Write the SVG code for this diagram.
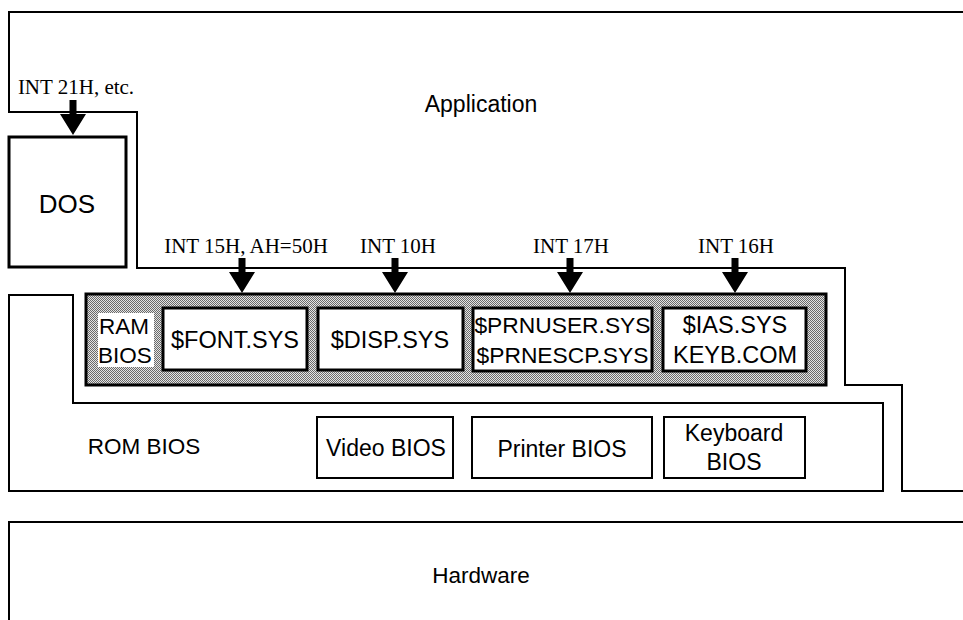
<svg xmlns="http://www.w3.org/2000/svg" width="963" height="620" viewBox="0 0 963 620">
<style>
.ln{fill:none;stroke:#000;stroke-width:2}
.bx{fill:#fff;stroke:#000;stroke-width:3}
.sf{font-family:"Liberation Sans",Arial,sans-serif;fill:#000;text-anchor:middle}
.tf{font-family:"Liberation Serif","Times New Roman",serif;fill:#000;font-size:21px;text-anchor:middle}
.s22{font-size:22.5px}
.s23{font-size:23.5px}
</style>
<defs>
<pattern id="stip" width="2" height="2" patternUnits="userSpaceOnUse">
<rect width="2" height="2" fill="#e4e4e4"/>
<rect width="1" height="1" fill="#6a6a6a"/>
<rect x="1" y="1" width="1" height="1" fill="#6a6a6a"/>
</pattern>
<path id="arr" d="M-3.5,0 H3.5 V14 H13 L0,35 L-13,14 H-3.5 Z" fill="#000"/>
</defs>
<rect width="963" height="620" fill="#fff"/>

<g id="application">
<path class="ln" d="M964,12 L9,12 L9,112 L137,112 L137,268 L845,268 L845,385 L902,385 L902,491 L964,491"/>
<text class="sf" x="481" y="112" font-size="23">Application</text>
</g>

<g id="dos">
<rect class="bx" x="9" y="137" width="117" height="130"/>
<text class="sf" x="67" y="213" font-size="26">DOS</text>
</g>

<g id="rom-bios">
<path class="ln" d="M9,295 L73,295 L73,403 L883,403 L883,491 L9,491 Z"/>
<text class="sf s22" x="144" y="454">ROM BIOS</text>
</g>

<g id="ram-bios">
<rect x="86" y="294" width="740" height="91" fill="url(#stip)" stroke="#000" stroke-width="3"/>
<rect x="98" y="313" width="56" height="54" fill="#fff"/>
<text class="sf s22" x="124" y="334">RAM</text>
<text class="sf s22" x="125" y="363">BIOS</text>
</g>

<g id="font-sys">
<rect class="bx" x="163" y="308" width="144" height="62"/>
<text class="sf s23" x="235" y="348">$FONT.SYS</text>
</g>

<g id="disp-sys">
<rect class="bx" x="318" y="308" width="145" height="62"/>
<text class="sf s23" x="390" y="348">$DISP.SYS</text>
</g>

<g id="prn-sys">
<rect class="bx" x="473" y="308" width="179" height="63"/>
<text class="sf" x="562.5" y="333" font-size="22.8">$PRNUSER.SYS</text>
<text class="sf" x="562.5" y="363" font-size="22.8">$PRNESCP.SYS</text>
</g>

<g id="ias-sys">
<rect class="bx" x="663" y="308" width="143" height="63"/>
<text class="sf s23" x="735" y="333">$IAS.SYS</text>
<text class="sf s23" x="735" y="363">KEYB.COM</text>
</g>

<g id="video-bios">
<rect class="ln" x="317" y="417" width="136" height="61"/>
<text class="sf" x="386" y="456" font-size="23">Video BIOS</text>
</g>

<g id="printer-bios">
<rect class="ln" x="472" y="417" width="180" height="61"/>
<text class="sf" x="562" y="457" font-size="23">Printer BIOS</text>
</g>

<g id="keyboard-bios">
<rect class="ln" x="664" y="417" width="141" height="61"/>
<text class="sf" x="734" y="441" font-size="23">Keyboard</text>
<text class="sf" x="734" y="470" font-size="23">BIOS</text>
</g>

<g id="hardware">
<path class="ln" d="M9,621 L9,522 L964,522"/>
<text class="sf s22" x="481" y="583">Hardware</text>
</g>

<g id="connectors">
<text class="tf" x="76" y="94">INT 21H, etc.</text>
<use href="#arr" x="73" y="100"/>
<text class="tf" x="246" y="253">INT 15H, AH=50H</text>
<use href="#arr" x="242" y="258"/>
<text class="tf" x="398" y="253">INT 10H</text>
<use href="#arr" x="395" y="258"/>
<text class="tf" x="571" y="253">INT 17H</text>
<use href="#arr" x="570" y="258"/>
<text class="tf" x="736" y="253">INT 16H</text>
<use href="#arr" x="735" y="258"/>
</g>
</svg>
